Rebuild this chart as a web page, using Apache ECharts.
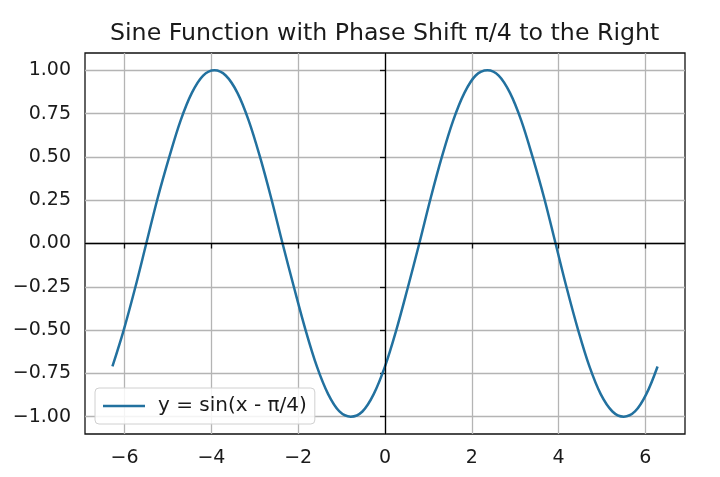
<!DOCTYPE html>
<html>
<head>
<meta charset="utf-8">
<script src="https://cdn.jsdelivr.net/npm/echarts@6/dist/echarts.min.js"></script>
<style>
  html, body { margin: 0; padding: 0; background: #fff; }
  #chart { width: 720px; height: 477px; }
</style>
</head>
<body>
<div id="chart"></div>
<script>
// points along the curve
const xValues = [
  -6.28, -6.02, -5.76, -5.50, -5.24, -4.97, -4.71, -4.45, -4.19, -3.93,
  -3.67, -3.40, -3.14, -2.88, -2.62, -2.36, -2.09, -1.83, -1.57, -1.31,
  -1.05, -0.79, -0.52, -0.26, 0.00, 0.26, 0.52, 0.79, 1.05, 1.31,
  1.57, 1.83, 2.09, 2.36, 2.62, 2.88, 3.14, 3.40, 3.67, 3.93,
  4.19, 4.45, 4.71, 4.97, 5.24, 5.50, 5.76, 6.02, 6.28
];
const yValues = [
  -0.71, -0.50, -0.26, 0.00, 0.26, 0.50, 0.71, 0.87, 0.97, 1.00,
  0.97, 0.87, 0.71, 0.50, 0.26, 0.00, -0.26, -0.50, -0.71, -0.87,
  -0.97, -1.00, -0.97, -0.87, -0.71, -0.50, -0.26, 0.00, 0.26, 0.50,
  0.71, 0.87, 0.97, 1.00, 0.97, 0.87, 0.71, 0.50, 0.26, 0.00,
  -0.26, -0.50, -0.71, -0.87, -0.97, -1.00, -0.97, -0.87, -0.71
];
const xTicks = [-6, -4, -2, 0, 2, 4, 6];
const yTicks = [-1, -0.75, -0.5, -0.25, 0, 0.25, 0.5, 0.75, 1];
const titleText = 'Sine Function with Phase Shift \u03c0/4 to the Right';
const seriesName = 'y = sin(x - \u03c0/4)';

const font = 'DejaVu Sans';
const lineColor = '#22719f';
const minus = (s) => String(s).replace('-', '\u2212');

let chart = echarts.init(document.getElementById('chart'));

chart.setOption({
  animation: false,
  backgroundColor: '#fff',
  title: {
    text: titleText,
    left: 105,
    top: 17,
    textStyle: { fontFamily: font, fontSize: 23.7, fontWeight: 'normal', color: '#1a1a1a' }
  },
  grid: {
    left: 85, right: 35, top: 53, bottom: 43,
    show: true, borderColor: '#111', borderWidth: 1.3, backgroundColor: 'transparent'
  },
  legend: {
    left: 95, top: 388,
    padding: [8, 8, 8, 8],
    icon: 'rect',
    itemWidth: 42, itemHeight: 2.6,
    borderColor: '#d0d0d0', borderWidth: 1, borderRadius: 4,
    backgroundColor: 'rgba(255,255,255,0.85)',
    textStyle: { fontFamily: font, fontSize: 20, color: '#1a1a1a', padding: [0, 0, 0, 8] },
    data: [seriesName]
  },
  xAxis: {
    type: 'value',
    min: -6.912, max: 6.912,
    axisLine: { show: false },
    axisTick: { show: true, length: 5, customValues: xTicks, lineStyle: { color: '#111', width: 1.3 } },
    axisLabel: {
      customValues: xTicks, margin: 15,
      fontFamily: font, fontSize: 19, color: '#1a1a1a',
      formatter: (v) => minus(v)
    },
    splitLine: { show: true, lineStyle: { color: '#b4b4b4', width: 1.3 } }
  },
  yAxis: {
    type: 'value',
    min: -1.1, max: 1.1,
    axisLine: { show: false },
    axisTick: { show: true, length: 5, customValues: yTicks, lineStyle: { color: '#111', width: 1.3 } },
    axisLabel: {
      customValues: yTicks, margin: 14,
      fontFamily: font, fontSize: 19, color: '#1a1a1a',
      formatter: (v) => minus(v.toFixed(2))
    },
    splitLine: { show: true, lineStyle: { color: '#b4b4b4', width: 1.3 } }
  },
  series: [{
    name: seriesName,
    type: 'line',
    data: xValues.map((x, i) => [x, yValues[i]]),
    showSymbol: false,
    symbol: 'none',
    smooth: 0.35,
    lineStyle: { color: lineColor, width: 2.5 },
    itemStyle: { color: lineColor },
    markLine: {
      silent: true,
      symbol: ['none', 'none'],
      label: { show: false },
      lineStyle: { color: '#000', width: 1.3, type: 'solid' },
      data: [{ xAxis: 0 }, { yAxis: 0 }]
    },
    z: 3
  }]
});
</script>
</body>
</html>
